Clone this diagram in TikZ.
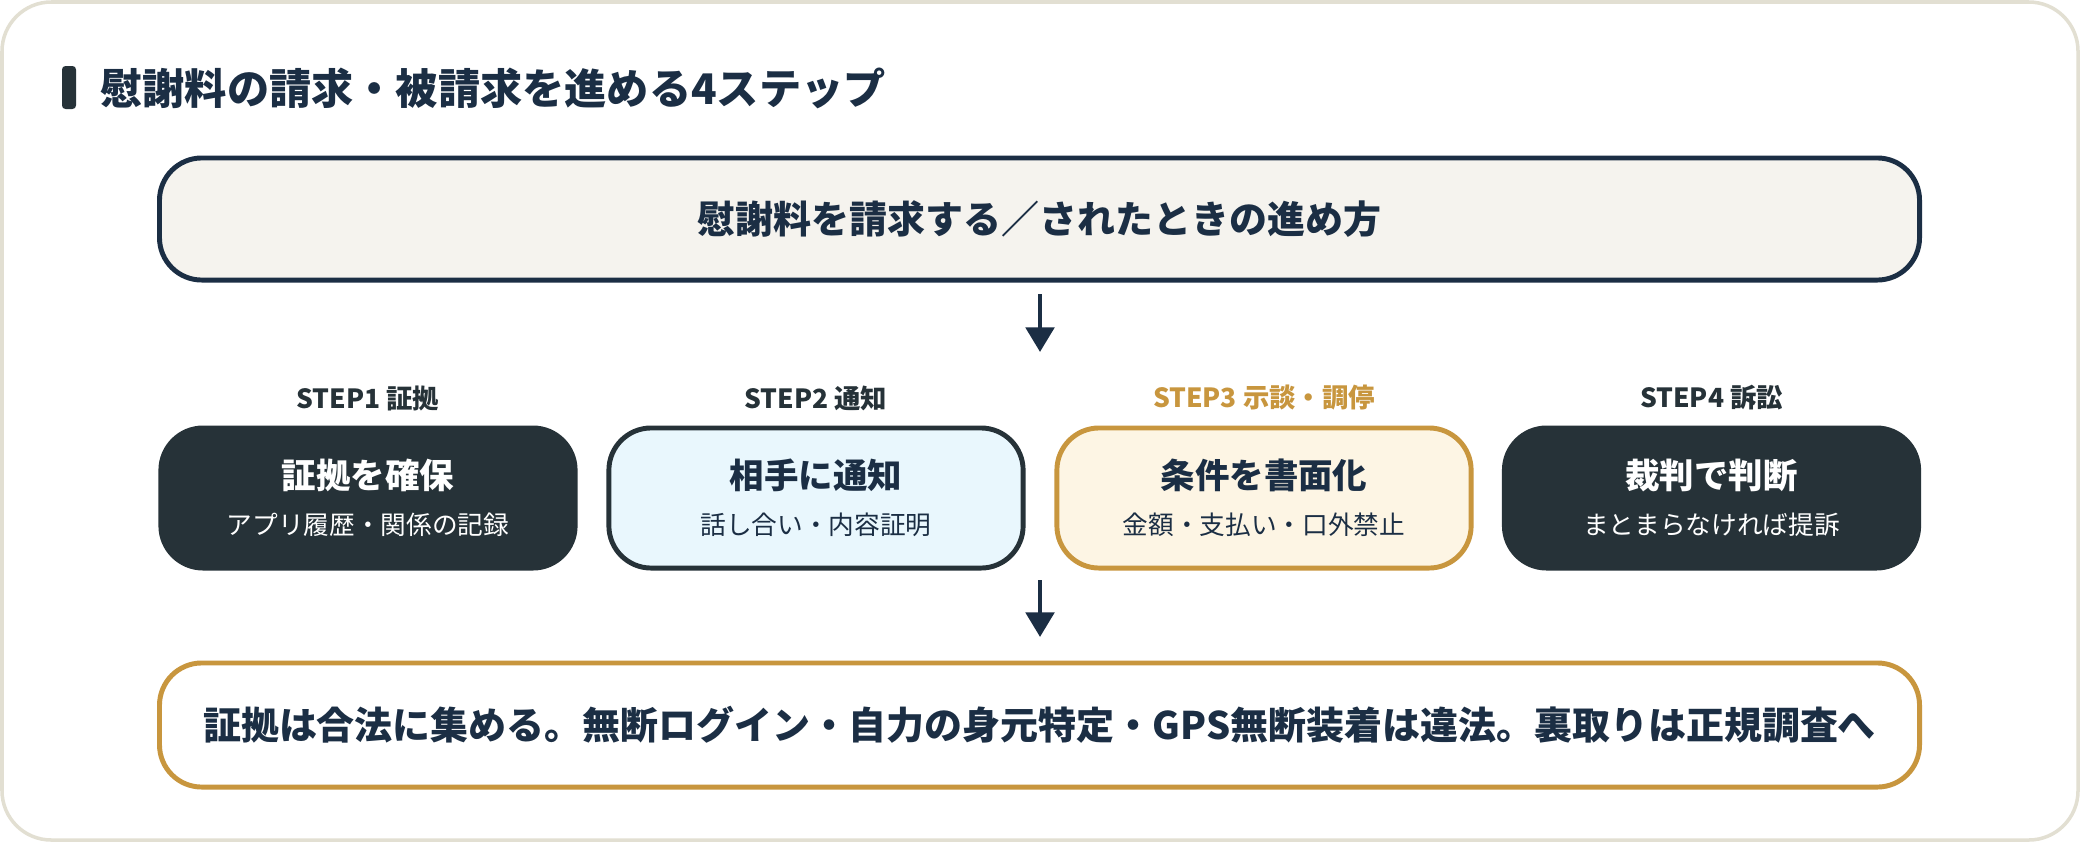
\documentclass[tikz,border=0pt]{standalone}
\usepackage{fontspec}
\setmainfont{Noto Sans CJK JP}
\usetikzlibrary{arrows.meta, positioning}
\definecolor{ink}{HTML}{1B2E44}
\definecolor{slate}{HTML}{263238}
\definecolor{gold}{HTML}{C8963E}
\definecolor{paper}{HTML}{F5F3EE}
\definecolor{sky}{HTML}{E9F7FD}
\definecolor{cream}{HTML}{FDF5E4}
\definecolor{frame}{HTML}{E2DFD2}
\tikzset{
    stepbox/.style={rounded corners=12pt, line width=1.4pt, minimum width=4.14cm,
        minimum height=1.40cm, align=center, font=\bfseries\fontsize{9.8}{14}\selectfont},
    steplabel/.style={font=\bfseries\fontsize{7.5}{9}\selectfont, text=slate},
    downarrow/.style={-{Triangle[length=7pt, width=8pt]}, line width=1.4pt, draw=ink}
}
\newcommand{\subline}[1]{\\[-1pt]{\mdseries\fontsize{7.3}{9}\selectfont #1}}

\begin{document}
\begin{tikzpicture}[x=0.01cm, y=-0.01cm]
    \useasboundingbox (0,0) rectangle (2080,842);

    % Cadre
    \draw[frame, fill=white, line width=1pt, rounded corners=14pt] (2,2) rectangle (2078,840);

    % Titre
    \fill[slate, rounded corners=1pt] (62,66) rectangle (76,109);
    \node[anchor=west, text=ink, font=\bfseries\fontsize{12}{14}\selectfont] (title) at (88,88)
        {慰謝料の請求・被請求を進める4ステップ};

    % Boite du haut
    \node[draw=ink, fill=paper, line width=1.4pt, rounded corners=12pt,
        minimum width=17.59cm, minimum height=1.22cm, text=ink,
        font=\bfseries\fontsize{10.8}{12}\selectfont] (head) at (1039.5,219)
        {慰謝料を請求する／されたときの進め方};

    % Etapes
    \node[stepbox, fill=slate, draw=slate, text=white] (s1) at (368,498)
        {証拠を確保\subline{アプリ履歴・関係の記録}};
    \node[stepbox, fill=sky, draw=slate, text=ink] (s2) at (816,498)
        {相手に通知\subline{話し合い・内容証明}};
    \node[stepbox, fill=cream, draw=gold, text=ink] (s3) at (1264,498)
        {条件を書面化\subline{金額・支払い・口外禁止}};
    \node[stepbox, fill=slate, draw=slate, text=white] (s4) at (1711.5,498)
        {裁判で判断\subline{まとまらなければ提訴}};

    \node[steplabel] (l1) at (368,398) {STEP1 証拠};
    \node[steplabel] (l2) at (816,398) {STEP2 通知};
    \node[steplabel, text=gold] (l3) at (1264,398) {STEP3 示談・調停};
    \node[steplabel] (l4) at (1711.5,398) {STEP4 訴訟};

    % Boite du bas
    \node[draw=gold, fill=white, line width=1.4pt, rounded corners=12pt,
        minimum width=17.59cm, minimum height=1.24cm, text=ink,
        font=\bfseries\fontsize{10.8}{12}\selectfont] (note) at (1039.5,725)
        {証拠は合法に集める。無断ログイン・自力の身元特定・GPS無断装着は違法。裏取りは正規調査へ};

    % Fleches
    \coordinate (a1) at (1040,294);
    \coordinate (b1) at (1040,352);
    \coordinate (a2) at (1040,580);
    \coordinate (b2) at (1040,637);
    \draw[downarrow] (a1) -- (b1);
    \draw[downarrow] (a2) -- (b2);
\end{tikzpicture}
\end{document}
